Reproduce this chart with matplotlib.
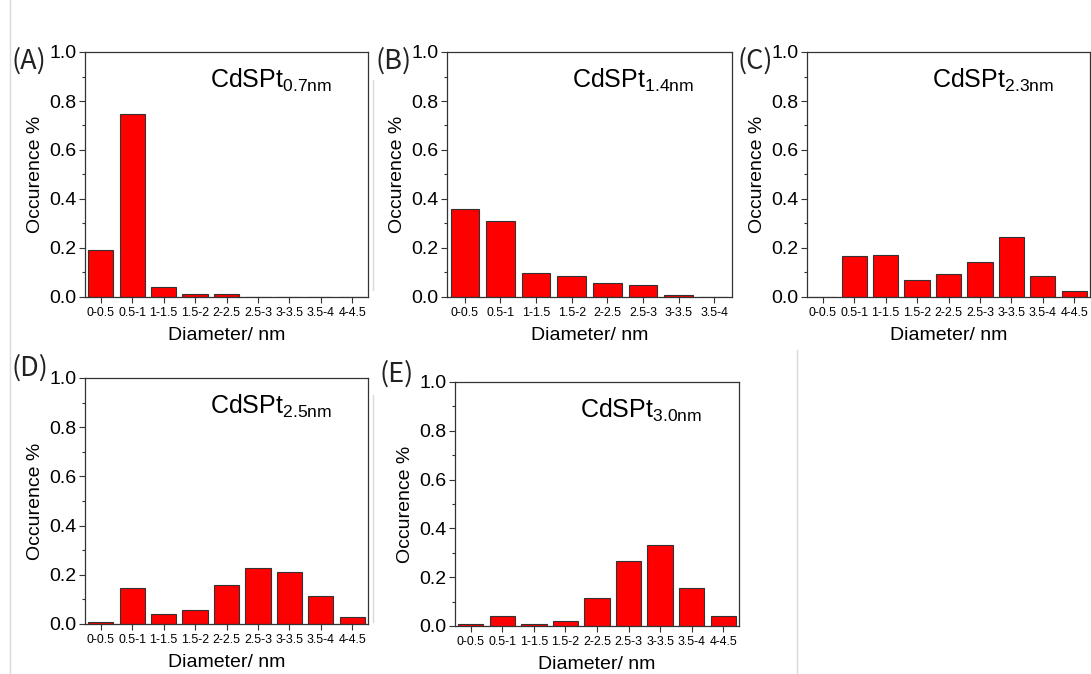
import numpy as np
import matplotlib.pyplot as plt
from matplotlib.ticker import MultipleLocator

plt.rcParams['font.family'] = ['Liberation Sans', 'DejaVu Sans']
plt.rcParams['mathtext.fontset'] = 'custom'
plt.rcParams['mathtext.rm'] = 'Liberation Sans'

bins9 = ["0-0.5", "0.5-1", "1-1.5", "1.5-2", "2-2.5", "2.5-3", "3-3.5", "3.5-4", "4-4.5"]
bins8 = bins9[:8]

occ_07 = [0.19, 0.745, 0.04, 0.013, 0.013, 0.0, 0.0, 0.0, 0.0]
occ_14 = [0.36, 0.31, 0.097, 0.087, 0.058, 0.048, 0.01, 0.0]
occ_23 = [0.0, 0.168, 0.173, 0.068, 0.093, 0.143, 0.243, 0.087, 0.025]
occ_25 = [0.01, 0.148, 0.04, 0.057, 0.16, 0.228, 0.212, 0.113, 0.028]
occ_30 = [0.01, 0.042, 0.01, 0.02, 0.113, 0.265, 0.33, 0.157, 0.042]

W, H = 1091, 674
fig = plt.figure(figsize=(W / 100, H / 100), dpi=100)

# panel boxes in pixels: left, right, top, bottom
panels = [
    ("(A)", "0.7nm", bins9, occ_07, (85, 368, 52, 297), (11, 61)),
    ("(B)", "1.4nm", bins8, occ_14, (447, 732, 52, 297), (376, 61)),
    ("(C)", "2.3nm", bins9, occ_23, (807, 1090, 52, 297), (737, 61)),
    ("(D)", "2.5nm", bins9, occ_25, (85, 368, 378, 624), (11, 368)),
    ("(E)", "3.0nm", bins9, occ_30, (455, 739, 382, 626), (379, 374)),
]

EDGE = "#333333"
yt = np.arange(0, 1.01, 0.2)

for letter, size, cats, vals, (l, r, t, b), (lx, ly) in panels:
    ax = fig.add_axes([l / W, 1 - b / H, (r - l) / W, (b - t) / H])
    x = np.arange(len(cats))
    ax.bar(x, vals, width=0.8, color="#ff0000", edgecolor=EDGE, linewidth=0.8)
    ax.set_xlim(-0.5, len(cats) - 0.5)
    ax.set_ylim(0, 1.0)
    ax.set_xticks(x)
    ax.set_xticklabels(cats, fontsize=8.9)
    ax.yaxis.set_minor_locator(MultipleLocator(0.1))
    ax.set_yticks(yt)
    ax.set_yticklabels([f"{v:.1f}" for v in yt], fontsize=14)
    ax.tick_params(axis="both", direction="out", color=EDGE, length=4, width=0.8)
    ax.tick_params(axis="y", which="minor", length=2.5, width=0.8, color=EDGE)
    ax.tick_params(axis="x", pad=3)
    ax.tick_params(axis="y", pad=2)
    for s in ax.spines.values():
        s.set_color(EDGE)
        s.set_linewidth(0.9)
    ax.set_xlabel("Diameter/ nm", fontsize=14, labelpad=6)
    ax.set_ylabel("Occurence %", fontsize=14, labelpad=4)
    ax.text(0.44, 0.885, "CdSPt$_{\\mathrm{" + size + "}}$", transform=ax.transAxes,
            fontsize=18, ha="left", va="center")
    fig.text(lx / W, 1 - ly / H, letter, fontsize=19.5, ha="left", va="center",
             family=["Noto Sans CJK SC", "DejaVu Sans"], color="#222222")

# light separator lines from the original screenshot collage
sep = "#d9d9d9"
fig.add_artist(plt.Line2D([10 / W, 10 / W], [0, 1], color=sep, lw=1))
fig.add_artist(plt.Line2D([797 / W, 797 / W], [0, 1 - 350 / H], color=sep, lw=1))
fig.add_artist(plt.Line2D([373 / W, 373 / W], [1 - 290 / H, 1 - 80 / H], color=sep, lw=1))
fig.add_artist(plt.Line2D([373 / W, 373 / W], [1 - 622 / H, 1 - 395 / H], color=sep, lw=1))

fig.savefig("out.png", dpi=100)
